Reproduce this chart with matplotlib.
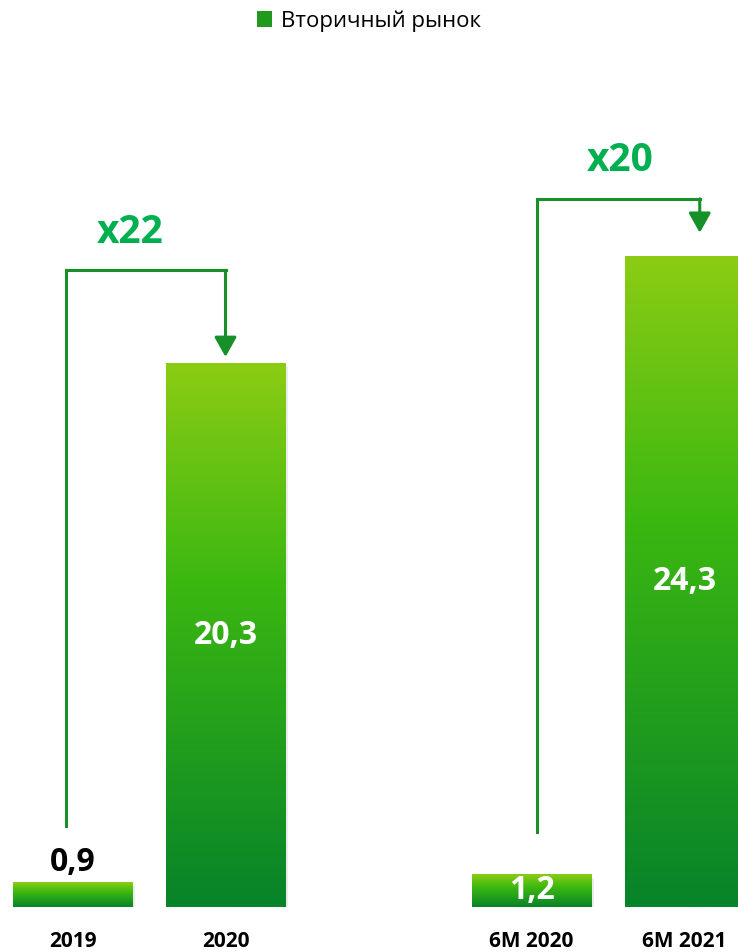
import numpy as np
import matplotlib
matplotlib.use("Agg")
import matplotlib.pyplot as plt
from matplotlib.colors import LinearSegmentedColormap
from matplotlib.patches import Patch

# Данные
categories = ["2019", "2020", "6M 2020", "6M 2021"]
values = [0.9, 20.3, 1.2, 24.3]
positions = [0, 1, 3, 4]
series_name = "Вторичный рынок"
growth_labels = ["x22", "x20"]

plt.rcParams["font.family"] = ["Open Sans", "DejaVu Sans"]

fig = plt.figure(figsize=(7.38, 9.52), dpi=100)
ax = fig.add_axes([0, 45 / 952, 1, 907 / 952])

green_cmap = LinearSegmentedColormap.from_list(
    "grad", [(0.0, "#07832a"), (0.6, "#3cb811"), (1.0, "#8ccc14")])
grad = np.linspace(0, 1, 256).reshape(-1, 1)

bars = ax.bar(positions, values, width=0.78, color="none", edgecolor="none")
for b in bars:
    x0, w, h = b.get_x(), b.get_width(), b.get_height()
    # лёгкая тень
    ax.bar(x0 + w / 2 + 0.02, h, width=w, bottom=-0.12, color="#000000",
           alpha=0.08, zorder=1)
    ax.imshow(grad, cmap=green_cmap, origin="lower", aspect="auto",
              extent=[x0, x0 + w, 0, h], zorder=2)

ax.set_xlim(-0.474, 4.35)
ax.set_ylim(0, 33.9)

# подписи значений
for p, v in zip(positions, values):
    txt = f"{v:.1f}".replace(".", ",")
    if v < 1:
        ax.text(p, v + 0.75, txt, ha="center", va="center", fontsize=23,
                fontweight="bold", color="black", zorder=3)
    else:
        ax.text(p, v / 2, txt, ha="center", va="center", fontsize=23,
                fontweight="bold", color="white", zorder=3)

# стрелки роста
line_col = "#17902a"
brackets = [(-0.04, 1.0, 3.03, 23.8, 20.56, 0.38, 25.2),
            (3.036, 4.1, 2.8, 26.47, 25.2, 3.58, 27.9)]
for (xa, xb, y0, ytop, ytip, lx, ly), lab in zip(brackets, growth_labels):
    ax.plot([xa, xa, xb], [y0, ytop, ytop], color=line_col, lw=2.2,
            solid_joinstyle="miter", zorder=3)
    ax.annotate("", xy=(xb, ytip), xytext=(xb, ytop),
                arrowprops=dict(arrowstyle="-|>,head_length=0.8,head_width=0.45",
                                mutation_scale=15, color=line_col, lw=2.2,
                                shrinkA=0, shrinkB=0))
    ax.text(lx, ly, lab, ha="center", va="center", fontsize=28,
            fontweight="bold", color="#00b050")

ax.set_xticks(positions)
ax.set_xticklabels(categories, fontsize=15, fontweight="bold")
ax.tick_params(axis="x", length=0, pad=17)
ax.set_yticks([])
for s in ax.spines.values():
    s.set_visible(False)

fig.legend(handles=[Patch(facecolor="#1f9a1c", label=series_name)],
           loc="upper center", bbox_to_anchor=(0.5, 1.01), frameon=False,
           fontsize=16, handlelength=0.7, handleheight=0.7, handletextpad=0.4)

fig.savefig("out.png", dpi=100)
